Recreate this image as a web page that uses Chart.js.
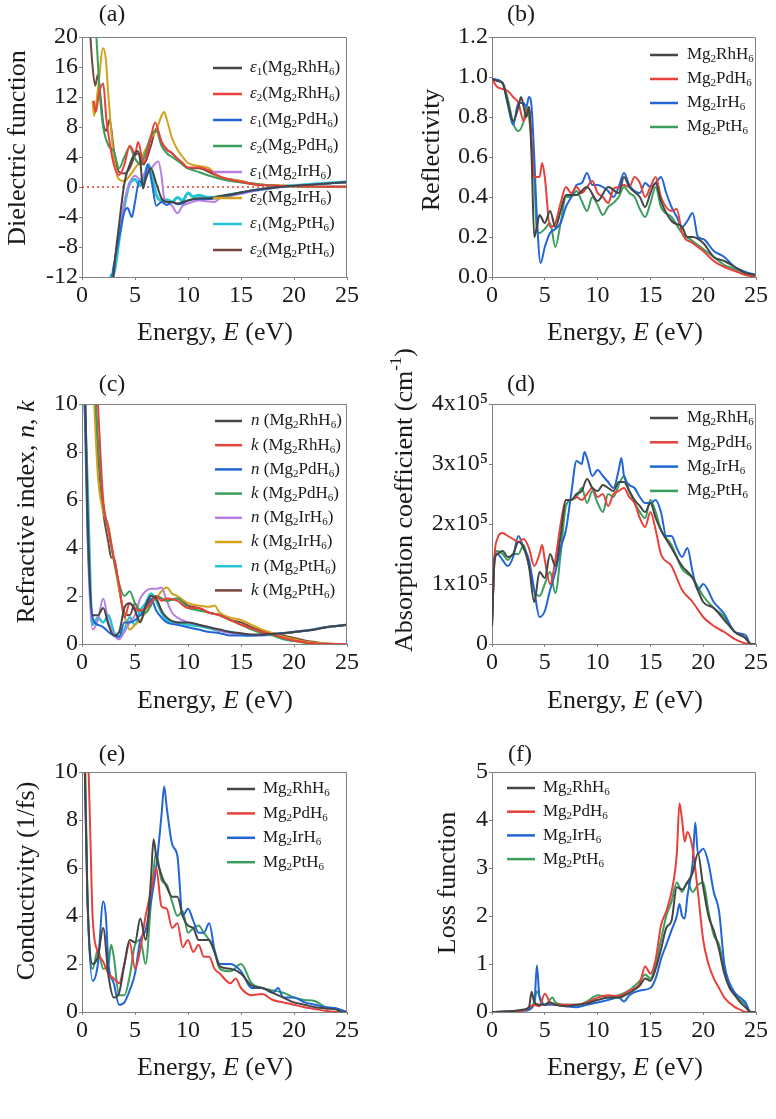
<!DOCTYPE html>
<html><head><meta charset="utf-8">
<script src="https://cdn.jsdelivr.net/npm/chart.js@4.4.1/dist/chart.umd.min.js"></script>
<style>
html,body{margin:0;padding:0;background:#fff;}
#wrap{position:relative;width:776px;height:1119px;overflow:hidden;background:#fff;}
canvas{position:absolute;left:0;top:0;}
</style></head><body><div id="wrap">
<canvas id="ca" width="776" height="1119"></canvas>
<canvas id="cb" width="776" height="1119"></canvas>
<canvas id="cc" width="776" height="1119"></canvas>
<canvas id="cd" width="776" height="1119"></canvas>
<canvas id="ce" width="776" height="1119"></canvas>
<canvas id="cf" width="776" height="1119"></canvas>
</div>
<script>
// ---------------- DATA (energy in eV, value) ----------------
// (a) dielectric function
const eps1_Rh = [[2.5,-25],[3,-11.5],[3.5,-5],[4,0.5],[4.5,3],[5,4.5],[5.25,4.8],[5.5,3.5],[5.75,-0.2],[6,1],[6.5,2.5],[7,0.5],[7.5,-1.5],[8,-2],[8.5,-2],[9,-2.2],[9.5,-2],[10,-1.8],[11,-1.5],[12,-1.5],[13,-1.2],[14,-1],[15,-0.7],[16,-0.45],[17,-0.25],[18,-0.1],[19,0.05],[20,0.15],[21,0.25],[22,0.35],[23,0.45],[24,0.55],[25,0.65]];
const eps2_Rh = [[1.1,11.5],[1.3,10],[1.6,12.5],[2,13.8],[2.3,9],[2.6,6],[3,3],[3.5,1.6],[4,3],[4.5,5.5],[5,4.5],[5.3,6],[5.8,3.2],[6.4,6],[6.9,8.6],[7.5,6],[8,5],[8.5,4.5],[9,3.8],[9.5,3.2],[10,2.6],[11,2.6],[12,2.2],[13,1.4],[14,1.0],[15,0.7],[16,0.4],[17,0.25],[18,0.2],[20,0.1],[22,0.05],[25,0.02]];
const eps1_Pd = [[2.4,-22],[2.8,-12.5],[3.2,-9],[3.6,-6],[4,-3.3],[4.3,-2.8],[4.7,-4],[5,-2],[5.4,0.8],[5.8,0.3],[6.2,3],[6.6,0.5],[7,-2.5],[7.5,-2],[8,-2.4],[8.5,-2],[9,-2.3],[9.5,-2.2],[10,-1.8],[11,-1.6],[12,-1.6],[13,-1.4],[14,-1.1],[15,-0.8],[16,-0.5],[17,-0.3],[18,-0.1],[19,0.05],[20,0.15],[21,0.25],[22,0.35],[23,0.45],[24,0.55],[25,0.65]];
const eps2_Pd = [[1.1,26],[1.4,19],[1.7,12],[2,8],[2.5,5.5],[3,4.8],[3.5,2.5],[4,4],[4.5,5.3],[5,3.8],[5.5,3],[6,4.5],[6.5,6.8],[7,7.5],[7.5,5.5],[8,4.5],[8.5,4],[9,3.5],[9.5,3],[10,2.5],[11,2],[12,1.5],[13,1.1],[14,0.8],[15,0.6],[16,0.4],[17,0.3],[18,0.2],[20,0.1],[22,0.05],[25,0.02]];
const eps1_Ir = [[2.5,-22],[2.9,-12.5],[3.4,-7],[4,-2],[4.5,0.5],[5,1.5],[5.5,1],[6,2],[6.5,2.5],[7.2,3.4],[7.5,1.5],[7.75,-1.5],[8,-2],[8.5,-2.5],[9,-3.5],[9.5,-2.5],[10,-2.2],[11,-1.8],[12.5,-2],[13,-1.5],[14,-1.2],[15,-0.9],[16,-0.6],[17,-0.35],[18,-0.15],[19,0],[20,0.15],[21,0.25],[22,0.35],[23,0.45],[24,0.55],[25,0.65]];
const eps2_Ir = [[1,11.5],[1.15,9.5],[1.5,13],[2,18.5],[2.25,17],[2.5,12],[3,4],[3.5,1],[4,0.8],[4.5,1.5],[5,2.5],[5.5,3.5],[6,5],[6.5,6.5],[7,7.5],[7.5,9.5],[7.75,10],[8,9],[8.5,6.5],[9,5],[9.5,4],[10,3.2],[11,2.8],[12,2.5],[13,1.2],[14,1.0],[15,0.8],[16,0.4],[17,0.3],[18,0.25],[19,0.2],[20,0.1],[22,0.05],[25,0.02]];
const eps1_Pt = [[2.3,-20],[2.7,-12],[3,-11.5],[3.5,-7],[4,-2.5],[4.5,0.5],[5,1],[5.5,0.2],[6,2],[6.25,3],[6.6,1.5],[7,-1],[7.5,-1.8],[8,-1.7],[8.5,-2],[9,-1.4],[9.5,-1.8],[10,-0.8],[10.5,-1.3],[11,-1.1],[12,-1.4],[13,-1.3],[14,-1],[15,-0.8],[16,-0.5],[17,-0.3],[18,-0.1],[19,0.1],[20,0.2],[21,0.3],[22,0.4],[23,0.5],[24,0.6],[25,0.7]];
const eps2_Pt = [[0.7,22],[1,16],[1.25,13.5],[1.5,15],[1.75,12],[2,8.5],[2.3,7.5],[2.6,9],[3,5],[3.5,2],[4,1.8],[4.5,2.5],[5,4.2],[5.3,4.5],[5.8,3],[6.5,5.5],[7,7.8],[7.5,6],[8,5],[8.5,4.5],[9,3.7],[9.5,3],[10,2.5],[11,2.5],[12,2],[13,1.3],[14,1.0],[15,0.8],[16,0.5],[17,0.3],[18,0.2],[20,0.1],[22,0.05],[25,0.02]];
const zeroLine = [[0,0],[25,0]];

// (b) reflectivity
const refl_Rh = [[0,0.99],[0.5,0.98],[1,0.97],[1.5,0.87],[2,0.78],[2.5,0.85],[2.75,0.9],[3,0.85],[3.25,0.8],[3.5,0.85],[3.75,0.6],[4,0.2],[4.25,0.25],[4.5,0.31],[5,0.27],[5.5,0.33],[6,0.25],[6.5,0.33],[7,0.41],[8,0.41],[9,0.45],[10,0.38],[11,0.45],[12,0.42],[12.5,0.5],[13,0.45],[14,0.4],[14.5,0.35],[15,0.42],[15.5,0.47],[16,0.38],[17,0.28],[18,0.25],[18.5,0.2],[19,0.2],[20,0.17],[21,0.1],[22,0.08],[23,0.05],[24,0.02],[25,0.01]];
const refl_Pd = [[0,0.99],[0.5,0.95],[1,0.94],[1.5,0.93],[2,0.9],[2.5,0.87],[3,0.78],[3.5,0.85],[4,0.5],[4.5,0.5],[4.75,0.57],[5,0.5],[5.5,0.25],[6,0.27],[6.5,0.37],[7,0.45],[7.5,0.42],[8,0.45],[8.5,0.42],[9,0.45],[9.5,0.48],[10,0.42],[10.5,0.4],[11,0.37],[11.5,0.44],[12,0.45],[12.5,0.46],[13,0.45],[13.5,0.5],[14,0.47],[14.5,0.4],[15,0.45],[15.5,0.5],[16,0.4],[17,0.33],[17.5,0.34],[18,0.22],[19,0.17],[20,0.13],[21,0.08],[22,0.05],[23,0.03],[24,0.01],[25,0]];
const refl_Ir = [[0,0.99],[1,0.97],[1.5,0.86],[2,0.76],[2.5,0.87],[3,0.87],[3.25,0.85],[3.5,0.9],[3.75,0.85],[4,0.6],[4.25,0.3],[4.6,0.07],[5,0.15],[5.5,0.22],[6,0.24],[6.5,0.27],[7,0.35],[7.5,0.4],[8,0.46],[8.5,0.47],[9,0.52],[9.5,0.46],[10,0.46],[10.5,0.45],[11,0.43],[11.5,0.4],[12,0.45],[12.5,0.52],[13,0.46],[13.5,0.43],[14,0.42],[14.5,0.47],[15,0.45],[15.5,0.47],[16,0.5],[16.5,0.42],[17,0.35],[17.5,0.3],[18,0.25],[18.5,0.28],[19,0.32],[19.5,0.2],[20,0.19],[21,0.13],[22,0.1],[23,0.05],[24,0.025],[25,0.01]];
const refl_Pt = [[0,0.99],[1,0.97],[1.5,0.89],[2,0.77],[2.5,0.73],[3,0.78],[3.25,0.85],[3.5,0.8],[4,0.5],[4.25,0.23],[4.5,0.22],[5,0.24],[5.5,0.27],[6,0.15],[6.5,0.27],[7,0.4],[7.5,0.4],[8,0.43],[8.5,0.38],[9,0.33],[9.5,0.4],[10,0.36],[10.5,0.31],[11,0.35],[11.5,0.37],[12,0.4],[12.5,0.45],[13,0.42],[13.5,0.4],[14,0.34],[14.5,0.3],[15,0.37],[15.5,0.45],[16,0.35],[17,0.3],[18,0.22],[19,0.18],[20,0.14],[21,0.1],[22,0.06],[23,0.04],[24,0.02],[25,0.01]];

// (c) refractive index n and extinction k
const n_Rh = [[0.25,12],[0.5,6],[1,1.2],[1.5,1.2],[2,1.5],[2.5,0.8],[3,0.35],[3.5,0.5],[4,1.5],[4.5,1.7],[5,1.4],[5.5,0.9],[6,1.6],[6.5,2.0],[7,1.9],[7.5,1.4],[8,1.1],[9,0.9],[10,0.9],[11,0.8],[12,0.7],[13,0.6],[14,0.5],[15,0.45],[16,0.4],[17,0.4],[18,0.42],[19,0.45],[20,0.5],[21,0.55],[22,0.6],[23,0.7],[24,0.75],[25,0.8]];
const k_Rh = [[1.5,10],[2,6],[2.5,4.8],[3,3.6],[3.5,2.5],[4,1.1],[4.5,1.7],[5,1.5],[5.5,1.4],[6,1.5],[6.5,1.7],[7,2.0],[7.5,1.8],[8,1.9],[9,1.8],[10,1.5],[11,1.5],[12,1.3],[13,1.2],[14,1.0],[15,0.8],[16,0.65],[17,0.5],[18,0.4],[19,0.25],[20,0.15],[21,0.07],[22,0.02],[23,0],[25,0]];
const n_Pd = [[0.25,10],[0.5,5],[1,1.1],[1.5,0.8],[2,0.7],[2.5,0.5],[3,0.35],[3.5,0.3],[4,0.9],[4.5,0.9],[5,1.0],[5.5,1.2],[6,1.5],[6.5,1.9],[7,1.4],[7.5,1.1],[8,0.9],[9,0.8],[10,0.7],[11,0.6],[12,0.5],[13,0.45],[14,0.35],[15,0.35],[16,0.35],[17,0.38],[18,0.42],[19,0.45],[20,0.5],[21,0.55],[22,0.62],[23,0.7],[24,0.75],[25,0.8]];
const k_Pd = [[1.3,10],[1.5,8.5],[2,5.8],[2.5,4.7],[3,3.5],[3.5,2.5],[4,2.0],[4.5,2.2],[5,1.7],[5.5,1.4],[6,1.3],[6.5,1.6],[7,2.0],[7.5,1.9],[8,1.8],[9,1.9],[10,1.5],[11,1.4],[12,1.3],[13,1.2],[14,1.0],[15,0.8],[16,0.6],[17,0.45],[18,0.35],[19,0.2],[20,0.12],[21,0.05],[22,0],[25,0]];
const n_Ir = [[0.25,12],[0.5,5],[1,0.6],[1.5,1.0],[2,1.9],[2.5,0.9],[3,0.4],[3.5,0.2],[4,0.5],[4.5,0.9],[5,1.2],[5.5,1.9],[6,2.2],[6.5,2.3],[7,2.3],[7.5,2.35],[8,1.8],[8.5,1.3],[9,1.1],[10,0.9],[11,0.8],[12,0.7],[13,0.55],[14,0.45],[15,0.4],[16,0.35],[17,0.35],[18,0.4],[19,0.45],[20,0.5],[21,0.55],[22,0.6],[23,0.7],[24,0.75],[25,0.8]];
const k_Ir = [[1.1,10.5],[1.5,7],[2,5.5],[2.5,4.9],[3,3.5],[3.5,2.3],[4,1.2],[4.5,0.6],[5,0.8],[5.5,1.0],[6,1.3],[6.5,1.7],[7,1.9],[7.5,2.2],[8,2.35],[8.5,2.1],[9,2.0],[10,1.7],[11,1.6],[12,1.55],[12.5,1.6],[13,1.3],[14,1.1],[15,1.0],[16,0.8],[17,0.6],[18,0.45],[19,0.3],[20,0.2],[21,0.1],[22,0.05],[23,0.02],[24,0],[25,0]];
const n_Pt = [[0.25,10],[0.5,7],[1,0.8],[1.5,1.1],[2,0.9],[2.5,1.2],[3,0.5],[3.5,0.3],[4,0.6],[4.5,1.1],[5,0.8],[5.5,1.4],[6,1.7],[6.5,2.1],[7,1.8],[7.5,1.3],[8,1.0],[9,0.9],[10,0.8],[11,0.75],[12,0.65],[13,0.55],[14,0.5],[15,0.4],[16,0.35],[17,0.38],[18,0.4],[19,0.45],[20,0.5],[21,0.55],[22,0.62],[23,0.7],[24,0.75],[25,0.8]];
const k_Pt = [[1.3,10],[1.5,8],[2,5.5],[2.5,4.2],[2.75,3.6],[3,3.6],[3.5,2.3],[4,1.3],[4.5,1.2],[5,1.7],[5.5,1.2],[6,1.5],[6.5,1.8],[7,2.0],[7.5,1.9],[8,1.8],[9,1.9],[10,1.6],[11,1.5],[12,1.3],[13,1.2],[14,1.0],[15,0.9],[16,0.7],[17,0.55],[18,0.45],[19,0.35],[20,0.25],[21,0.15],[22,0.08],[23,0.02],[24,0],[25,0]];

// (d) absorption coefficient, in units of 1x10^5 cm^-1
const abs_Rh = [[0,0.3],[0.25,1.4],[0.5,1.5],[1,1.55],[1.5,1.45],[2,1.5],[2.5,1.7],[3,1.6],[3.5,1.3],[4,0.7],[4.5,1.2],[5,1.1],[5.5,1.5],[6,1.3],[6.5,1.8],[7,2.4],[7.5,2.4],[8,2.5],[8.5,2.55],[9,2.75],[9.5,2.6],[10,2.55],[10.5,2.65],[11,2.6],[11.5,2.55],[12,2.7],[12.5,2.7],[13,2.55],[13.5,2.4],[14,2.3],[14.5,2.2],[15,2.35],[15.5,2.1],[16,1.9],[17,1.6],[18,1.3],[19,1.1],[20,0.7],[21,0.6],[22,0.4],[23,0.2],[24,0.1],[24.5,0],[25,0]];
const abs_Pd = [[0,0.4],[0.25,1.5],[0.5,1.75],[1,1.85],[1.5,1.8],[2,1.75],[2.5,1.7],[3,1.75],[3.5,1.6],[4,1.3],[4.5,1.5],[4.75,1.65],[5,1.4],[5.5,1.0],[6,1.4],[6.5,2.0],[7,2.4],[7.5,2.4],[8,2.45],[8.5,2.4],[9,2.5],[9.5,2.6],[10,2.45],[10.5,2.5],[11,2.3],[11.5,2.5],[12,2.55],[12.5,2.6],[13,2.45],[13.5,2.35],[14,2.1],[14.5,1.95],[15,2.2],[15.5,1.9],[16,1.5],[17,1.3],[18,0.9],[19,0.7],[20,0.45],[21,0.3],[22,0.2],[23,0.08],[24,0.01],[25,0]];
const abs_Ir = [[0,0.3],[0.25,1.45],[0.5,1.5],[1,1.4],[1.5,1.3],[2,1.45],[2.5,1.8],[3,1.6],[3.5,1.4],[4,0.9],[4.5,0.45],[5,0.55],[5.5,0.9],[6,1.2],[6.5,1.6],[7,1.9],[7.5,2.5],[8,3.05],[8.5,3.0],[8.75,3.2],[9,3.1],[9.5,2.8],[10,2.9],[10.5,2.8],[11,2.7],[11.5,2.6],[12,2.9],[12.25,3.1],[12.5,2.8],[13,2.65],[13.5,2.6],[14,2.45],[14.5,2.35],[15,2.35],[15.5,2.4],[16,2.2],[16.5,1.8],[17,1.8],[17.5,1.6],[18,1.45],[18.5,1.6],[19,1.2],[19.5,0.9],[20,1.0],[21,0.7],[22,0.5],[23,0.2],[24,0.15],[24.5,0],[25,0]];
const abs_Pt = [[0,0.3],[0.25,1.45],[0.5,1.55],[1,1.5],[1.5,1.4],[2,1.5],[2.5,1.5],[3,1.65],[3.5,1.3],[4,0.9],[4.5,0.8],[5,1.0],[5.5,1.2],[6,0.85],[6.5,1.5],[7,2.3],[7.5,2.4],[8,2.45],[8.5,2.6],[9,2.35],[9.5,2.55],[10,2.35],[10.5,2.2],[11,2.5],[11.5,2.45],[12,2.65],[12.5,2.8],[13,2.55],[13.5,2.35],[14,2.2],[14.5,2.1],[15,2.4],[15.5,2.2],[16,1.9],[17,1.65],[18,1.25],[19,1.1],[20,0.8],[21,0.6],[22,0.45],[23,0.2],[24,0.1],[24.5,0],[25,0]];

// (e) optical conductivity (1/fs)
const cond_Rh = [[0.25,10.5],[0.5,5],[1,2.0],[1.5,2.3],[2,3.5],[2.5,1.5],[3,0.6],[3.5,0.8],[4,2.0],[4.5,3.0],[5,2.9],[5.5,3.9],[6,3.0],[6.5,5.5],[6.75,7.2],[7,6.5],[7.5,5.7],[8,5.2],[8.5,4.8],[9,4.8],[9.5,4.0],[10,3.6],[10.5,3.5],[11,3.0],[11.5,3.0],[12,3.0],[12.5,2.5],[13,1.9],[14,1.8],[15,1.6],[16,1.1],[17,1.0],[18,0.8],[19,0.6],[20,0.4],[21,0.3],[22,0.2],[23,0.15],[24,0.1],[24.5,0],[25,0]];
const cond_Pd = [[0.5,12],[0.75,8],[1,4],[1.5,2.5],[2,2.1],[2.5,1.6],[3,1.4],[3.5,1.2],[4,2.0],[4.5,2.9],[5,1.8],[5.5,2.6],[6,4.0],[6.5,5.0],[7,6.0],[7.5,4.4],[8,4.3],[8.5,3.5],[9,3.7],[9.5,2.7],[10,3.0],[10.5,2.5],[11,2.8],[11.5,2.3],[12,2.3],[12.5,1.8],[13,1.6],[14,1.2],[14.5,1.4],[15,1.0],[16,0.7],[17,0.75],[18,0.5],[19,0.4],[20,0.3],[21,0.2],[22,0.12],[23,0.05],[24,0],[25,0]];
const cond_Ir = [[0.25,10.5],[0.5,5],[1,1.3],[1.5,2.0],[2,4.6],[2.25,4.0],[2.5,2.0],[3,1.2],[3.5,0.3],[4,0.4],[4.5,0.9],[5,1.6],[5.5,3.0],[6,3.4],[6.5,4.6],[7,6.0],[7.5,8.2],[7.75,9.4],[8,8.5],[8.5,7.0],[9,6.5],[9.5,4.0],[10,4.3],[10.5,3.8],[11,3.3],[11.5,3.3],[12,3.7],[12.5,2.6],[13,2.0],[14,2.0],[15,1.7],[16,1.0],[17,1.0],[18,0.8],[18.5,1.0],[19,0.6],[20,0.6],[21,0.4],[22,0.3],[23,0.2],[24,0.15],[25,0]];
const cond_Pt = [[0.3,10.5],[0.5,5],[1,1.8],[1.5,2.6],[2,1.8],[2.5,2.0],[2.75,2.8],[3,2.3],[3.5,0.7],[4,0.7],[4.5,1.5],[5,2.8],[5.5,3.0],[6,2.0],[6.5,4.5],[7,6.6],[7.5,5.5],[8,5.3],[8.5,4.6],[9,4.0],[9.5,4.2],[10,3.3],[10.5,3.5],[11,3.6],[11.5,3.3],[12,3.0],[12.5,2.5],[13,1.8],[14,1.7],[15,2.0],[16,1.2],[17,1.0],[18,0.9],[19,0.8],[20,0.6],[21,0.5],[22,0.45],[23,0.2],[24,0.15],[24.5,0],[25,0]];

// (f) energy loss function
const loss_Rh = [[0,0],[2,0.02],[3,0.05],[3.5,0.1],[3.75,0.42],[4,0.2],[4.5,0.15],[5,0.15],[5.5,0.2],[6,0.15],[7,0.12],[8,0.15],[9,0.18],[10,0.25],[11,0.3],[12,0.3],[13,0.4],[14,0.55],[14.5,0.7],[15,0.65],[15.5,0.9],[16,1.3],[16.5,1.75],[17,1.9],[17.5,2.6],[18,2.55],[18.5,2.7],[19,2.9],[19.5,3.3],[20,2.6],[20.5,2.0],[21,1.7],[21.5,1.3],[22,0.8],[22.5,0.5],[23,0.35],[23.5,0.2],[24,0.1],[24.5,0],[25,0]];
const loss_Pd = [[0,0],[3,0.03],[4,0.15],[4.5,0.12],[5,0.38],[5.5,0.2],[6,0.15],[7,0.15],[8,0.15],[9,0.2],[10,0.3],[11,0.35],[12,0.33],[13,0.45],[14,0.6],[14.5,0.95],[15,0.8],[15.5,1.1],[16,1.8],[16.5,2.1],[17,2.5],[17.5,3.3],[17.75,4.35],[18,4.0],[18.25,3.55],[18.5,3.75],[19,3.4],[19.5,2.5],[20,1.5],[20.5,1.0],[21,0.7],[21.5,0.5],[22,0.3],[23,0.1],[23.5,0.05],[24,0],[25,0]];
const loss_Ir = [[0,0],[3,0.03],[4,0.15],[4.25,0.97],[4.5,0.3],[5,0.15],[5.5,0.15],[6,0.15],[7,0.12],[8,0.1],[9,0.15],[10,0.2],[11,0.25],[12,0.3],[12.5,0.22],[13,0.35],[14,0.45],[15,0.5],[15.5,0.7],[16,1.1],[16.5,1.4],[17,1.7],[17.5,2.0],[17.75,2.25],[18,2.0],[18.25,1.95],[18.5,2.4],[19,3.1],[19.25,3.95],[19.5,3.3],[20,3.4],[20.5,3.1],[21,2.5],[21.5,2.1],[22,1.0],[22.5,0.6],[23,0.4],[23.5,0.3],[24,0.2],[24.5,0],[25,0]];
const loss_Pt = [[0,0],[3,0.03],[4,0.2],[4.25,0.43],[4.75,0.2],[5,0.15],[5.75,0.3],[6,0.2],[7,0.15],[8,0.15],[9,0.22],[10,0.35],[11,0.3],[12,0.35],[13,0.45],[14,0.65],[14.5,0.78],[15,0.7],[15.5,1.0],[16,1.5],[16.5,2.0],[17,2.3],[17.5,2.7],[18,2.5],[18.5,2.7],[19,2.5],[19.5,2.65],[20,2.7],[20.5,2.1],[21,1.6],[21.5,1.4],[22,0.9],[22.5,0.55],[23,0.35],[23.5,0.25],[24,0.15],[24.5,0],[25,0]];

// labels
const compounds = ["Mg_{2}RhH_{6}","Mg_{2}PdH_{6}","Mg_{2}IrH_{6}","Mg_{2}PtH_{6}"];
const epsLabels = ["*ε*_{1}(Mg_{2}RhH_{6})","*ε*_{2}(Mg_{2}RhH_{6})","*ε*_{1}(Mg_{2}PdH_{6})","*ε*_{2}(Mg_{2}PdH_{6})","*ε*_{1}(Mg_{2}IrH_{6})","*ε*_{2}(Mg_{2}IrH_{6})","*ε*_{1}(Mg_{2}PtH_{6})","*ε*_{2}(Mg_{2}PtH_{6})"];
const nkLabels = ["*n* (Mg_{2}RhH_{6})","*k* (Mg_{2}RhH_{6})","*n* (Mg_{2}PdH_{6})","*k* (Mg_{2}PdH_{6})","*n* (Mg_{2}IrH_{6})","*k* (Mg_{2}IrH_{6})","*n* (Mg_{2}PtH_{6})","*k* (Mg_{2}PtH_{6})"];
const energyTicks = [0,5,10,15,20,25];
const absTickLabels = {0:"0",1:"1x10⁵",2:"2x10⁵",3:"3x10⁵",4:"4x10⁵"};
const xTitle = "Energy, *E* (eV)";

// ---------------- RENDERING ----------------
const PAGE_W = 776, PAGE_H = 1119, YAXIS_W = 78, XAXIS_H = 40;
const C8 = ['#454545','#e8413c','#2166d4','#3c9e5c','#b77fe0','#d1a21a','#25c4d4','#77463c'];
const C4 = ['#454545','#e8413c','#2166d4','#3c9e5c'];
const FAM = '"Liberation Serif","Times New Roman",Times,serif';

function parseRich(s){
  const segs=[]; let i=0, it=false, buf='';
  const push=(t,mode)=>{ if(t) segs.push({t:t,italic:it,mode:mode}); };
  while(i<s.length){
    const c=s[i];
    if(c==='*'){ push(buf,'n'); buf=''; it=!it; i++; }
    else if((c==='_'||c==='^')&&s[i+1]==='{'){ push(buf,'n'); buf=''; const j=s.indexOf('}',i); push(s.slice(i+2,j), c==='_'?'sub':'sup'); i=j+1; }
    else { buf+=c; i++; }
  }
  push(buf,'n');
  return segs;
}
function drawRich(ctx,s,x,y,size,align,rot){
  const segs=parseRich(s);
  const fontOf=g=>(g.italic?'italic ':'')+(g.mode==='n'?size:Math.round(size*0.66))+'px '+FAM;
  let w=0; segs.forEach(g=>{ctx.font=fontOf(g); g.w=ctx.measureText(g.t).width; w+=g.w;});
  ctx.save(); ctx.translate(x,y); if(rot) ctx.rotate(rot);
  let cx = align==='center'?-w/2:(align==='right'?-w:0);
  ctx.fillStyle='#1a1a1a'; ctx.textBaseline='middle'; ctx.textAlign='left';
  segs.forEach(g=>{ctx.font=fontOf(g); const dy=g.mode==='sub'?size*0.27:(g.mode==='sup'?-size*0.32:0); ctx.fillText(g.t,cx,dy); cx+=g.w;});
  ctx.restore();
}

const deco = {
  id:'deco',
  afterDraw(chart){
    const o=chart.options.plugins.deco; const ctx=chart.ctx; const a=chart.chartArea;
    ctx.save();
    ctx.strokeStyle='#808080'; ctx.lineWidth=1;
    ctx.beginPath(); ctx.moveTo(a.left,a.top+0.5); ctx.lineTo(a.right-0.5,a.top+0.5); ctx.lineTo(a.right-0.5,a.bottom); ctx.stroke();
    ctx.restore();
    drawRich(ctx,o.label,o.labelX,o.labelY,24,'center',0);
    drawRich(ctx,o.ytitle,o.ytX,o.ytY,26,'center',-Math.PI/2);
    drawRich(ctx,xTitle,o.xtX,o.xtY,26,'center',0);
    const L=o.legend; let k=0;
    chart.data.datasets.forEach(ds=>{
      if(ds.noLegend) return;
      const y=L.y0+k*L.dy;
      ctx.save(); ctx.strokeStyle=ds.borderColor; ctx.lineWidth=2.5; ctx.beginPath(); ctx.moveTo(L.x1,y); ctx.lineTo(L.x2,y); ctx.stroke(); ctx.restore();
      drawRich(ctx,ds.label,L.tx,y,17,'left',0);
      k++;
    });
  }
};

function makeChart(id,cfg){
  const cv=document.getElementById(id); const p=cfg.plot;
  const datasets=cfg.series.map(s=>({
    label:s.label, data:s.data.map(q=>({x:q[0],y:q[1]})), borderColor:s.color,
    borderWidth:s.width||2, borderDash:s.dash||[], pointRadius:0, fill:false,
    cubicInterpolationMode:'monotone', noLegend:!!s.noLegend
  }));
  const axisCommon={
    grid:{display:true,drawOnChartArea:false,drawTicks:true,tickLength:3,color:'#808080'},
    border:{display:true,color:'#808080',width:1}
  };
  new Chart(cv,{
    type:'line',
    data:{datasets:datasets},
    options:{
      responsive:false, animation:false, devicePixelRatio:1,
      layout:{padding:{left:p.l-YAXIS_W,top:p.t,right:PAGE_W-p.r,bottom:PAGE_H-p.b-XAXIS_H}},
      plugins:{legend:{display:false},tooltip:{enabled:false},deco:cfg.deco},
      scales:{
        x:Object.assign({type:'linear',min:0,max:25,
          afterBuildTicks(s){ s.ticks=energyTicks.map(v=>({value:v})); },
          ticks:{font:{family:FAM,size:24},color:'#1a1a1a',padding:1,maxRotation:0,autoSkip:false,callback:v=>String(v)},
          afterFit(s){ s.height=XAXIS_H; }},axisCommon),
        y:Object.assign({type:'linear',min:cfg.ymin,max:cfg.ymax,
          ticks:{stepSize:cfg.ystep,font:{family:FAM,size:24},color:'#1a1a1a',padding:1,autoSkip:false,callback:cfg.yfmt},
          afterFit(s){ s.width=YAXIS_W; }},axisCommon)
      }
    },
    plugins:[deco]
  });
}

const epsData=[eps1_Rh,eps2_Rh,eps1_Pd,eps2_Pd,eps1_Ir,eps2_Ir,eps1_Pt,eps2_Pt];
const aSeries=epsData.map((d,i)=>({label:epsLabels[i],data:d,color:C8[i],width:i===6?3:2}));
aSeries.push({label:'',data:zeroLine,color:'#e03a30',width:1.5,dash:[2,3],noLegend:true});
makeChart('ca',{plot:{l:82,t:37,r:347,b:277},ymin:-12,ymax:20,ystep:4,yfmt:v=>String(v),series:aSeries,
  deco:{label:'(a)',labelX:112,labelY:15,ytitle:'Dielectric function',ytX:18,ytY:148,xtX:215,xtY:333,
    legend:{x1:213,x2:242,tx:250,y0:68,dy:26}}});

makeChart('cb',{plot:{l:492,t:37,r:756,b:277},ymin:0,ymax:1.2,ystep:0.2,yfmt:v=>v.toFixed(1),
  series:[refl_Rh,refl_Pd,refl_Ir,refl_Pt].map((d,i)=>({label:compounds[i],data:d,color:C4[i]})),
  deco:{label:'(b)',labelX:521,labelY:15,ytitle:'Reflectivity',ytX:432,ytY:150,xtX:625,xtY:333,
    legend:{x1:650,x2:678,tx:687,y0:55,dy:24}}});

const nkData=[n_Rh,k_Rh,n_Pd,k_Pd,n_Ir,k_Ir,n_Pt,k_Pt];
makeChart('cc',{plot:{l:82,t:404,r:347,b:644},ymin:0,ymax:10,ystep:2,yfmt:v=>String(v),
  series:nkData.map((d,i)=>({label:nkLabels[i],data:d,color:C8[i],width:i===6?2.5:2})),
  deco:{label:'(c)',labelX:112,labelY:385,ytitle:'Refractive index, *n*, *k*',ytX:27,ytY:512,xtX:215,xtY:701,
    legend:{x1:215,x2:242,tx:251,y0:421,dy:24.2}}});

makeChart('cd',{plot:{l:492,t:404,r:756,b:644},ymin:0,ymax:4,ystep:1,yfmt:v=>absTickLabels[v]||'',
  series:[abs_Rh,abs_Pd,abs_Ir,abs_Pt].map((d,i)=>({label:compounds[i],data:d,color:C4[i]})),
  deco:{label:'(d)',labelX:521,labelY:385,ytitle:'Absorption coefficient (cm^{-1})',ytX:405,ytY:500,xtX:625,xtY:701,
    legend:{x1:650,x2:678,tx:687,y0:418,dy:24.3}}});

makeChart('ce',{plot:{l:82,t:772,r:347,b:1012},ymin:0,ymax:10,ystep:2,yfmt:v=>String(v),
  series:[cond_Rh,cond_Pd,cond_Ir,cond_Pt].map((d,i)=>({label:compounds[i],data:d,color:C4[i]})),
  deco:{label:'(e)',labelX:112,labelY:755,ytitle:'Conductivity (1/fs)',ytX:27,ytY:881,xtX:215,xtY:1068,
    legend:{x1:227,x2:255,tx:263,y0:789,dy:24.4}}});

makeChart('cf',{plot:{l:492,t:772,r:756,b:1012},ymin:0,ymax:5,ystep:1,yfmt:v=>String(v),
  series:[loss_Rh,loss_Pd,loss_Ir,loss_Pt].map((d,i)=>({label:compounds[i],data:d,color:C4[i]})),
  deco:{label:'(f)',labelX:520,labelY:755,ytitle:'Loss function',ytX:448,ytY:883,xtX:625,xtY:1068,
    legend:{x1:507,x2:535,tx:543,y0:788,dy:23.7}}});
</script>
</body></html>
